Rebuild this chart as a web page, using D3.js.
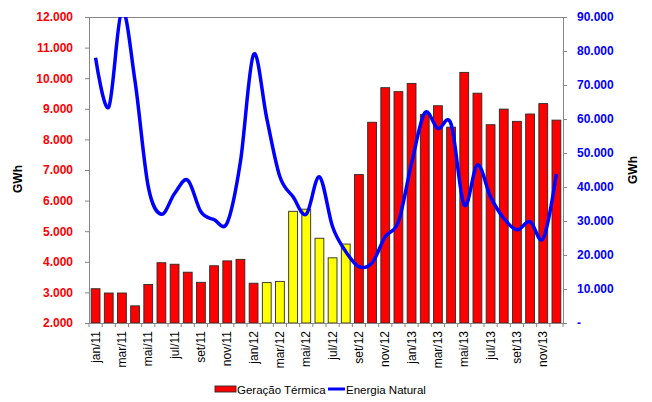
<!DOCTYPE html>
<html><head><meta charset="utf-8">
<script src="https://cdn.jsdelivr.net/npm/d3@7"></script>
<style>body{margin:0;background:#fff;} svg{display:block;font-family:"Liberation Sans",Arial,sans-serif;}</style>
</head><body>
<svg id="c" width="652" height="402"></svg>
<script>
const months = ["jan/11","fev/11","mar/11","abr/11","mai/11","jun/11","jul/11","ago/11","set/11","out/11","nov/11","dez/11",
"jan/12","fev/12","mar/12","abr/12","mai/12","jun/12","jul/12","ago/12","set/12","out/12","nov/12","dez/12",
"jan/13","fev/13","mar/13","abr/13","mai/13","jun/13","jul/13","ago/13","set/13","out/13","nov/13","dez/13"];
const geracaoTermica = [3120,2980,2980,2560,3260,3970,3920,3660,3330,3870,4030,4080,
3300,3320,3360,5650,5720,4770,4130,4580,6850,8560,9690,9560,
9830,8810,9100,8400,10190,9510,8480,8990,8590,8830,9170,8630];
const energiaNatural = [78000,63500,92000,71000,40100,32000,38100,42000,32700,30400,29500,47400,
79000,60200,43000,37100,32000,43000,28300,21000,16600,17700,25400,29800,
47000,61800,57200,58500,34700,46500,37100,30800,27400,29800,24900,43800];
const yellowMonths = ["fev/12","mar/12","abr/12","mai/12","jun/12","jul/12","ago/12"];
const leftTicks = [2000,3000,4000,5000,6000,7000,8000,9000,10000,11000,12000];
const rightTicks = [0,10000,20000,30000,40000,50000,60000,70000,80000,90000];
const xLabels = months.filter((m,i)=>i%2===0);

const svg = d3.select("#c");
const L=89, R=563, T=17, B=323;
const x = d3.scaleBand().domain(months).range([L,R]).paddingInner(0.33).paddingOuter(0.165);
const yL = d3.scaleLinear().domain([2000,12000]).range([B,T]);
const yR = d3.scaleLinear().domain([0,90000]).range([B,T]);
const loc = d3.formatLocale({decimal:",",thousands:".",grouping:[3],currency:["",""]});
const fmt = loc.format(",.0f");
const grey = "#868686";

// plot top border
svg.append("line").attr("x1",L).attr("x2",R).attr("y1",T+0.5).attr("y2",T+0.5).attr("stroke",grey).attr("stroke-width",1);

// bars
svg.append("g").selectAll("rect").data(months).join("rect")
  .attr("x",d=>x(d)).attr("width",x.bandwidth())
  .attr("y",(d,i)=>yL(geracaoTermica[i])).attr("height",(d,i)=>B-yL(geracaoTermica[i]))
  .attr("fill",d=>yellowMonths.includes(d)?"#FFFF00":"#FF0000")
  .attr("stroke","#2a2a2a").attr("stroke-width",0.9);

// left axis
const gl = svg.append("g").attr("transform",`translate(${L},0)`)
  .call(d3.axisLeft(yL).tickValues(leftTicks).tickFormat(fmt).tickSize(4).tickPadding(12));
gl.select(".domain").attr("stroke",grey);
gl.selectAll(".tick line").attr("stroke",grey);
gl.selectAll("text").attr("fill","#FF0000").attr("font-weight","bold").attr("font-size","12px").attr("font-family","Liberation Sans, Arial, sans-serif");

// right axis
const gr = svg.append("g").attr("transform",`translate(${R},0)`)
  .call(d3.axisRight(yR).tickValues(rightTicks).tickFormat(d=>d===0?"-":fmt(d)).tickSize(4).tickPadding(10));
gr.select(".domain").attr("stroke",grey);
gr.selectAll(".tick line").attr("stroke",grey);
gr.selectAll("text").attr("fill","#0000FF").attr("font-weight","bold").attr("font-size","12px").attr("font-family","Liberation Sans, Arial, sans-serif");

// x axis
svg.append("line").attr("x1",L).attr("x2",R).attr("y1",B+0.5).attr("y2",B+0.5).attr("stroke",grey);
const step = x.step();
svg.append("g").selectAll("line").data(d3.range(months.length+1)).join("line")
  .attr("x1",i=>L+i*step).attr("x2",i=>L+i*step).attr("y1",B).attr("y2",B+4).attr("stroke",grey);
svg.append("g").selectAll("text").data(xLabels).join("text")
  .attr("transform",d=>`translate(${x(d)+x.bandwidth()/2+4},${B+8}) rotate(-90)`)
  .attr("text-anchor","end").attr("font-size","12px").attr("fill","#000").text(d=>d);

// line
svg.append("clipPath").attr("id","clip").append("rect").attr("x",L).attr("y",T).attr("width",R-L).attr("height",B-T);
const line = d3.line().x((d,i)=>x(months[i])+x.bandwidth()/2).y(d=>yR(d)).curve(d3.curveCatmullRom.alpha(0));
svg.append("path").datum(energiaNatural).attr("d",line).attr("fill","none")
  .attr("stroke","#0000FF").attr("stroke-width",3.5).attr("clip-path","url(#clip)");

// axis titles
svg.append("text").attr("transform","translate(22,179) rotate(-90)").attr("text-anchor","middle")
  .attr("font-size","12px").attr("font-weight","bold").text("GWh");
svg.append("text").attr("transform","translate(637,170) rotate(-90)").attr("text-anchor","middle")
  .attr("font-size","12px").attr("font-weight","bold").text("GWh");

// legend
const lg = svg.append("g");
lg.append("rect").attr("x",215).attr("y",386).attr("width",21).attr("height",6).attr("fill","#FF0000").attr("stroke","#2a2a2a").attr("stroke-width",0.9);
lg.append("text").attr("x",237).attr("y",393.5).attr("font-size","11.5px").text("Geração Térmica");
lg.append("line").attr("x1",328).attr("x2",345).attr("y1",389).attr("y2",389).attr("stroke","#0000FF").attr("stroke-width",3);
lg.append("text").attr("x",346).attr("y",393.5).attr("font-size","11.5px").text("Energia Natural");
</script>
</body></html>
